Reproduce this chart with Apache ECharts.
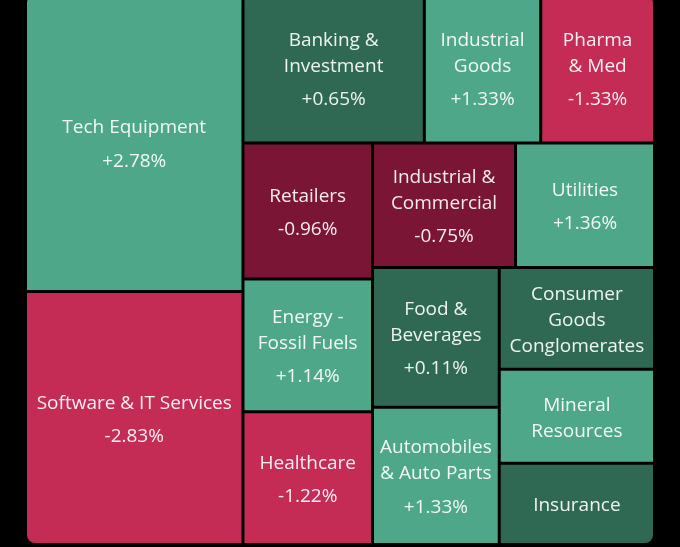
<!DOCTYPE html>
<html>
<head>
<meta charset="utf-8">
<script src="https://cdn.jsdelivr.net/npm/echarts@6/dist/echarts.min.js"></script>
<style>
  html, body { margin: 0; padding: 0; background: #000; overflow: hidden; }
  #chart { width: 680px; height: 547px; }
</style>
</head>
<body>
<div id="chart"></div>
<script>
// Sectors in layout order
const sectors = ['Tech Equipment', 'Software & IT Services', 'Banking & Investment', 'Industrial Goods', 'Pharma & Med',
  'Retailers', 'Energy - Fossil Fuels', 'Healthcare', 'Industrial & Commercial', 'Utilities',
  'Food & Beverages', 'Automobiles & Auto Parts', 'Consumer Goods Conglomerates', 'Mineral Resources', 'Insurance'];
// Display labels (with line breaks as shown)
const labels = ['Tech Equipment', 'Software & IT Services', 'Banking &\nInvestment', 'Industrial\nGoods', 'Pharma\n& Med',
  'Retailers', 'Energy -\nFossil Fuels', 'Healthcare', 'Industrial &\nCommercial', 'Utilities',
  'Food &\nBeverages', 'Automobiles\n& Auto Parts', 'Consumer\nGoods\nConglomerates', 'Mineral\nResources', 'Insurance'];
// Relative size (area) of each sector
const sizes = [648, 550, 271, 174, 170, 176, 172, 172, 178, 173, 177, 174, 158, 146, 126];
// Daily change in percent (null = not shown)
const changes = [2.78, -2.83, 0.65, 1.33, -1.33, -0.96, 1.14, -1.22, -0.75, 1.36, 0.11, 1.33, null, null, null];
// Colour bucket for each sector
const buckets = ['up', 'down', 'upSmall', 'up', 'down', 'downSmall', 'up', 'down', 'downSmall', 'up',
  'upSmall', 'up', 'upSmall', 'up', 'upSmall'];

const palette = {
  up: '#4fa78a',
  upSmall: '#2f6954',
  down: '#c42b55',
  downSmall: '#7a1535'
};
const corners = {
  'Tech Equipment': [8, 0, 0, 0],
  'Pharma & Med': [0, 8, 0, 0],
  'Software & IT Services': [0, 0, 0, 8],
  'Insurance': [0, 0, 8, 0]
};
const NAME_LH = 26, VAL_LH = 41;

function fmt(v) {
  if (v === null) return '';
  return (v > 0 ? '+' : '') + v.toFixed(2) + '%';
}

function buildData(heights) {
  return sectors.map((s, i) => {
    const nLines = labels[i].split('\n').length;
    const hasVal = changes[i] !== null;
    const contentH = nLines * NAME_LH + (hasVal ? VAL_LH : 0);
    const h = heights ? heights[s] : contentH;
    // centre the span from first line to last line inside the cell
    const spanH = hasVal ? nLines * NAME_LH + 33.5 - 13 + 13 : contentH;
    let padTop = (h - spanH) / 2 + 2;
    padTop = Math.max(padTop, 0);
    return {
      name: s,
      value: sizes[i],
      label: {
        padding: [padTop, 0, 0, 0],
        formatter: hasVal
          ? '{n|' + labels[i] + '}\n{v|' + fmt(changes[i]) + '}'
          : '{n|' + labels[i] + '}'
      },
      itemStyle: { color: palette[buckets[i]], borderRadius: corners[s] || 0 }
    };
  });
}

const chart = echarts.init(document.getElementById('chart'), null, { renderer: 'canvas' });
const txt = 'rgba(255,255,255,0.92)';
function makeOption(data) {
  return {
    backgroundColor: '#000',
    animation: false,
    series: [{
      type: 'treemap',
      left: 27,
      top: -5,
      width: 626,
      height: 548,
      sort: false,
      squareRatio: 1,
      roam: false,
      nodeClick: false,
      breadcrumb: { show: false },
      itemStyle: { borderWidth: 0, gapWidth: 3, borderColor: '#000' },
      levels: [
        { itemStyle: { borderWidth: 0, gapWidth: 3, borderColor: '#000' } },
        { itemStyle: { borderWidth: 0, gapWidth: 0 } }
      ],
      label: {
        show: true,
        position: 'inside',
        align: 'center',
        verticalAlign: 'middle',
        color: txt,
        fontFamily: 'Open Sans',
        rich: {
          n: { fontSize: 19, lineHeight: NAME_LH, color: txt, fontFamily: 'Open Sans', align: 'center' },
          v: { fontSize: 19, lineHeight: VAL_LH, color: txt, fontFamily: 'Open Sans', align: 'center' }
        }
      },
      data: data
    }]
  };
}

chart.setOption(makeOption(buildData(null)));
// Read the cell heights computed by the library's treemap layout to centre labels vertically
const heights = {};
try {
  const tree = chart.getModel().getSeriesByIndex(0).getData().tree;
  tree.root.children.forEach(node => {
    heights[node.name] = node.getLayout().height;
  });
  chart.setOption(makeOption(buildData(heights)));
} catch (e) { console.error(e); }
</script>
</body>
</html>
